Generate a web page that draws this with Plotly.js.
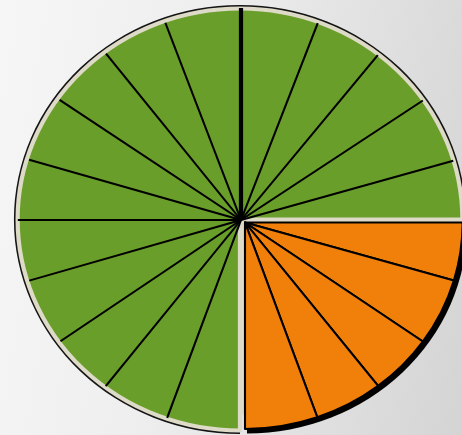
<!DOCTYPE html>
<html><head><meta charset="utf-8">
<script src="https://cdn.plot.ly/plotly-3.0.1.min.js"></script>
<style>
html,body{margin:0;padding:0;width:462px;height:435px;overflow:hidden;
 background:linear-gradient(100deg,#f6f6f6 0%,#eeeeee 40%,#d4d4d4 100%);}
.layer{position:absolute;left:-9.5px;top:-10.5px;width:500px;height:460px;transform:scaleX(1.054);transform-origin:250px 230px;}
</style></head><body>
<div id="pies" class="layer"></div>
<div id="spokes" class="layer"></div>
<script>
// ---- data: segment sizes (degrees), clockwise from 3 o'clock ----
const segments = ['S1','S2','S3','S4','S5','S6','S7','S8','S9','S10',
                  'S11','S12','S13','S14','S15','S16','S17','S18','S19','S20'];
const segmentValues = [16.3, 18.9, 17.1, 18.3, 19.4,
                       19.5, 18.2, 17.0, 18.5, 16.8,
                       16.7, 18.2, 17.5, 17.6, 20.0,
                       20.3, 17.9, 17.1, 18.3, 16.4];
const segmentGroups = ['Orange','Orange','Orange','Orange','Orange',
                       'Green','Green','Green','Green','Green','Green','Green','Green','Green','Green',
                       'Green','Green','Green','Green','Green'];
const groupNames = ['Orange','Green'];

// ---- style ----
const groupColors = {Orange:'#f0800a', Green:'#6a9e2a'};
const BEIGE = '#dedac8', NONE = 'rgba(0,0,0,0)';
const W = 500, H = 460, CX = 250, CY = 230;
const START = 90;             // pie starts at 3 o'clock
const fullSpokes = [0, 270];  // spokes drawn to the rim
const thickSpoke = 0;

function dom(dx, dy, r) {
  return {x:[(CX+dx-r)/W, (CX+dx+r)/W], y:[(H-CY-dy-r)/H, (H-CY-dy+r)/H]};
}
const total = segmentValues.reduce((a,b)=>a+b,0);
const regionValues = groupNames.map(g => segmentValues.filter((v,i)=>segmentGroups[i]===g).reduce((a,b)=>a+b,0));
const base = {type:'pie', sort:false, direction:'clockwise', rotation:START,
              textinfo:'none', hoverinfo:'skip', showlegend:false};
function regionPie(tag, colorOf, d, extra) {
  return Object.assign({}, base, {
    labels: groupNames.map(g=>tag+'_'+g), values: regionValues,
    marker:{colors: groupNames.map(colorOf), line:{width:0}}, domain: d}, extra || {});
}
const G = [-0.95, -0.5], O = [3.8, 2.5];
const shadow  = regionPie('sh', g => g==='Orange' ? '#000000' : NONE, dom(O[0]+1.9, O[1]+2, 209));
const outline = regionPie('ol', g => g==='Green' ? '#151515' : NONE, dom(G[0], G[1], 214.5));
const greenBody = regionPie('gb', g => g==='Green' ? groupColors.Green : NONE, dom(G[0], G[1], 211), {
  marker:{colors: groupNames.map(g=> g==='Green' ? groupColors.Green : NONE),
          line:{color: groupNames.map(g=> g==='Green' ? BEIGE : NONE),
                width: groupNames.map(g=> g==='Green' ? 4 : 0)}}});
const gapFill = regionPie('gf', g => g==='Orange' ? BEIGE : NONE, dom(G[0], G[1], 195));
const orangeBody = Object.assign({}, base, {
  labels: segments.map(s=>'or_'+s), values: segmentValues,
  marker:{colors: segmentGroups.map(g=> g==='Orange' ? groupColors.Orange : NONE),
          line:{color: segmentGroups.map(g=> g==='Orange' ? '#000000' : NONE),
                width: segmentGroups.map(g=> g==='Orange' ? 2 : 0)}},
  domain: dom(O[0], O[1], 206.5)
});

const pieLayout = {width:W, height:H, margin:{l:0,r:0,t:0,b:0},
  paper_bgcolor:NONE, plot_bgcolor:NONE, showlegend:false};
Plotly.newPlot('pies', [shadow, outline, greenBody, gapFill, orangeBody], pieLayout, {staticPlot:true});

// ---- spokes between green segments ----
const n = segments.length;
let cum = 0; const bounds = [];
for (let k = 0; k < n; k++) {
  const ang = ((START + cum/total*360) % 360 + 360) % 360;
  const prev = segmentGroups[(k-1+n)%n], cur = segmentGroups[k];
  if (prev === 'Green' && cur === 'Green') bounds.push(ang);
  cum += segmentValues[k];
}
const near = (a, b) => Math.min(Math.abs(a-b), 360-Math.abs(a-b)) < 0.05;
function spokeTrace(angles, reach, width) {
  const r = [], t = [];
  angles.forEach(a => { r.push(0, reach, null); t.push(a, a, null); });
  return {type:'scatterpolar', mode:'lines', r:r, theta:t, hoverinfo:'skip', showlegend:false,
          line:{color:'#000000', width:width}, connectgaps:false};
}
const shortA = bounds.filter(a => !fullSpokes.some(f => near(a,f)));
const fullA  = bounds.filter(a => fullSpokes.some(f => near(a,f)) && !near(a, thickSpoke));
const thickA = bounds.filter(a => near(a, thickSpoke));
const spokeLayout = {width:W, height:H, margin:{l:0,r:0,t:0,b:0},
  paper_bgcolor:NONE, showlegend:false,
  polar:{domain: dom(0, 0, 212), bgcolor:NONE,
    radialaxis:{visible:false, range:[0,1]},
    angularaxis:{visible:false, direction:'clockwise', rotation:90}}};
Plotly.newPlot('spokes', [spokeTrace(shortA, 0.99, 2), spokeTrace(fullA, 1.018, 2), spokeTrace(thickA, 1.0, 4)],
  spokeLayout, {staticPlot:true});
</script>
</body></html>
